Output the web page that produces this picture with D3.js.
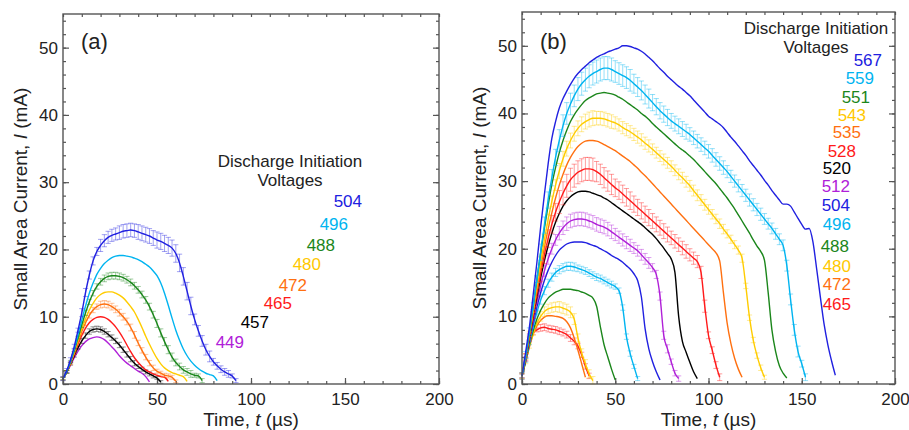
<!DOCTYPE html>
<html>
<head>
<meta charset="utf-8">
<script src="https://cdn.jsdelivr.net/npm/d3@7"></script>
<style>
  body { margin: 0; background: #fff; }
  svg { font-family: "Liberation Sans", Arial, sans-serif; }
</style>
</head>
<body>
<svg id="chart" width="909" height="430"></svg>
<script>
// every trace is sampled every 2 us starting at t = 0
const step = 2;

// panel (a): small area current (mA)
const a449 = [0.8,1.7,2.8,3.9,4.9,5.7,6.3,6.7,6.9,7.0,6.9,6.6,6.1,5.5,4.9,4.2,3.6,3.1,2.7,2.3,1.9,1.6,1.1,0.3];
const a457 = [0.8,1.8,3.0,4.2,5.4,6.4,7.2,7.8,8.1,8.2,8.1,7.8,7.4,6.9,6.4,5.8,5.1,4.4,3.7,3.1,2.6,2.2,1.8,1.5,1.2,0.9,0.3];
const a465 = [0.8,1.8,3.0,4.4,5.9,7.2,8.3,9.1,9.6,9.9,10.0,9.9,9.6,9.1,8.5,7.7,6.8,5.8,4.8,3.9,3.2,2.6,2.1,1.8,1.5,1.3,1.1,1.0,0.4];
const a472 = [0.8,1.8,3.1,4.6,6.2,7.8,9.1,10.2,11.0,11.5,11.8,11.9,11.8,11.5,11.1,10.6,10.0,9.3,8.4,7.3,6.1,5.0,4.0,3.1,2.4,1.9,1.6,1.3,1.2,1.0,0.4];
const a480 = [0.8,1.8,3.2,4.8,6.5,8.2,9.7,11.0,12.0,12.8,13.3,13.6,13.7,13.7,13.5,13.2,12.8,12.2,11.5,10.7,9.6,8.4,7.1,5.9,4.8,3.8,3.0,2.4,2.0,1.7,1.5,1.3,1.1,0.4];
const a488 = [0.8,1.8,3.3,5.0,6.9,8.8,10.6,12.2,13.5,14.5,15.2,15.7,16.0,16.1,16.1,16.0,15.8,15.5,15.1,14.6,14.0,13.3,12.5,11.5,10.3,9.0,7.6,6.3,5.1,4.0,3.2,2.6,2.1,1.8,1.5,1.3,1.2,0.5];
const a496 = [0.8,1.9,3.4,5.2,7.3,9.5,11.6,13.5,15.0,16.3,17.2,17.9,18.4,18.8,19.0,19.1,19.1,19.0,18.9,18.7,18.5,18.2,17.8,17.4,16.8,16.1,15.0,13.5,11.7,9.8,8.0,6.5,5.2,4.2,3.4,2.8,2.3,1.9,1.6,1.4,1.2,0.5];
const a504 = [0.8,2.0,3.6,5.6,8.0,10.6,13.6,16.2,18.3,19.7,20.6,21.3,21.8,22.1,22.3,22.5,22.7,22.8,22.9,22.8,22.6,22.4,22.2,22.0,21.7,21.4,21.2,20.9,20.6,20.2,19.4,18.0,16.0,13.8,11.6,9.6,7.9,6.4,5.1,4.1,3.3,2.7,2.2,1.8,1.5,1.2,0.5];

// panel (a): error bar half heights (mA), one value per 10 us
const a457err = [0.2,0.4,0.4,0.4,0.3,0.2];
const a472err = [0.2,0.4,0.5,0.5,0.4,0.3,0.2];
const a488err = [0.2,0.4,0.5,0.5,0.5,0.6,0.5,0.3];
const a504err = [0.3,0.6,0.9,1.0,1.1,1.2,1.3,0.8,0.5,0.3];

// panel (b): small area current (mA)
const b465 = [1.2,4.2,6.8,7.6,8.0,8.3,8.4,8.2,8.1,8.0,7.8,7.6,7.3,6.8,6.3,5.6,4.3,2.6,1.2];
const b472 = [1.2,3.3,5.5,7.3,8.6,9.4,9.9,10.1,10.1,10.0,9.9,9.7,9.2,8.3,6.8,5.0,3.0,1.0];
const b480 = [1.2,3.3,5.6,7.5,9.0,10.0,10.7,11.1,11.3,11.4,11.4,11.2,11.0,10.6,9.6,6.8,4.6,3.0,1.5,0.5];
const b488 = [1.2,3.4,5.8,7.9,9.6,10.9,11.9,12.7,13.2,13.6,13.8,14.0,14.0,14.0,13.9,13.8,13.6,13.4,13.1,12.7,11.5,8.5,5.8,4.0,2.2,0.6];
const b496 = [1.2,3.5,6.1,8.5,10.6,12.4,13.8,14.9,15.8,16.5,16.9,17.2,17.4,17.4,17.3,17.1,16.9,16.7,16.4,16.1,15.8,15.6,15.3,15.0,14.7,14.4,13.8,11.3,7.0,4.5,2.6,0.8];
const b504 = [1.2,3.6,6.4,9.0,11.4,13.5,15.3,16.8,18.0,19.0,19.8,20.3,20.7,20.9,21.0,21.0,21.0,20.9,20.7,20.5,20.3,20.0,19.7,19.4,19.0,18.7,18.4,18.0,17.5,17.0,16.3,15.3,12.9,8.2,5.2,3.3,1.8,0.6];
const b512 = [1.2,3.7,6.6,9.5,12.2,14.6,16.7,18.5,20.0,21.3,22.3,23.1,23.7,24.1,24.3,24.4,24.4,24.3,24.1,23.9,23.6,23.4,23.2,22.9,22.5,22.1,21.7,21.3,20.9,20.5,20.1,19.7,19.1,18.5,17.9,17.2,16.2,13.0,7.2,5.2,3.3,1.6,0.8];
const b520 = [1.2,3.8,6.8,9.9,12.9,15.7,18.2,20.4,22.3,23.9,25.2,26.3,27.1,27.7,28.1,28.4,28.5,28.5,28.4,28.2,28.0,27.8,27.5,27.2,26.8,26.4,26.0,25.6,25.2,24.8,24.4,24.0,23.6,23.1,22.6,22.1,21.5,20.8,20.1,19.3,18.5,16.5,10.0,6.3,4.7,3.2,1.8,0.8];
const b528 = [1.2,3.9,7.0,10.2,13.4,16.4,19.1,21.5,23.6,25.4,26.9,28.2,29.3,30.2,30.8,31.3,31.6,31.8,31.8,31.7,31.4,31.0,30.5,30.0,29.5,29.0,28.6,28.1,27.6,27.1,26.6,26.1,25.6,25.1,24.6,24.1,23.6,23.1,22.6,22.1,21.6,21.1,20.6,20.1,19.6,19.1,18.6,18.1,16.5,11.5,7.2,5.0,2.8,1.0];
const b535 = [1.2,4.0,7.2,10.6,14.0,17.2,20.2,22.9,25.3,27.5,29.4,31.0,32.4,33.5,34.4,35.1,35.6,35.9,36.0,36.0,35.9,35.7,35.4,35.1,34.8,34.5,34.1,33.7,33.3,32.9,32.4,31.9,31.3,30.8,30.2,29.6,29.0,28.4,27.8,27.2,26.6,26.0,25.4,24.8,24.2,23.6,23.0,22.4,21.8,21.2,20.6,20.0,19.4,18.2,13.5,9.0,6.0,3.8,2.2,1.0];
const b543 = [1.2,4.1,7.4,11.0,14.6,18.0,21.3,24.3,27.0,29.4,31.5,33.3,34.8,36.0,37.0,37.8,38.4,38.8,39.1,39.3,39.3,39.3,39.2,39.0,38.8,38.6,38.3,37.9,37.6,37.3,36.9,36.5,36.1,35.6,35.2,34.7,34.2,33.7,33.2,32.7,32.2,31.6,31.0,30.5,29.9,29.3,28.6,27.9,27.2,26.5,25.8,25.1,24.4,23.7,22.9,22.2,21.4,20.6,19.8,18.6,14.5,9.8,6.5,4.2,2.4,1.0];
const b551 = [1.2,4.2,7.6,11.5,15.5,19.4,23.0,26.4,29.5,32.0,34.2,36.0,37.5,38.8,39.8,40.6,41.3,41.9,42.3,42.6,42.9,43.0,43.1,43.0,42.9,42.7,42.4,42.1,41.7,41.3,40.9,40.5,40.0,39.6,39.1,38.5,38.0,37.5,37.0,36.5,36.0,35.5,35.0,34.6,34.2,33.7,33.2,32.6,32.0,31.4,30.8,30.2,29.6,28.9,28.2,27.5,26.7,25.9,25.0,24.1,23.2,22.3,21.3,20.4,19.6,18.3,13.5,8.0,4.8,2.7,1.6,0.9];
const b559 = [1.2,4.3,7.8,11.5,15.5,19.5,23.5,27.2,30.5,33.5,36.0,38.2,40.0,41.4,42.6,43.6,44.4,45.0,45.5,45.9,46.2,46.5,46.7,46.7,46.5,46.2,45.9,45.6,45.3,44.9,44.4,43.9,43.4,42.8,42.2,41.6,41.0,40.4,39.9,39.4,38.9,38.5,38.1,37.7,37.3,36.9,36.4,35.9,35.4,34.9,34.4,33.8,33.2,32.6,32.0,31.4,30.7,30.0,29.3,28.6,27.9,27.2,26.5,25.8,25.1,24.4,23.7,23.0,22.2,21.4,20.5,17.5,12.5,8.0,4.8,3.0,1.0];
const b567 = [1.2,4.8,8.5,13.2,18.0,23.2,28.0,32.5,36.3,38.8,40.8,42.2,43.3,44.3,45.2,45.9,46.5,47.0,47.5,47.9,48.3,48.6,48.8,49.1,49.3,49.5,49.7,50.0,50.0,49.9,49.7,49.5,49.2,48.8,48.3,47.8,47.2,46.6,46.1,45.5,45.0,44.5,44.0,43.6,43.1,42.6,42.0,41.4,40.8,40.2,39.6,39.2,38.8,38.4,37.9,37.2,36.5,35.9,35.2,34.5,33.8,33.0,32.3,31.6,30.9,30.1,29.4,28.6,27.9,27.2,26.6,26.6,26.3,25.4,24.5,23.6,22.9,23.0,21.0,17.0,12.8,8.8,5.8,3.4,1.3];

// panel (b): error bar half heights (mA), one value per 10 us
const b465err = [0.3,0.5,0.5,0.4];
const b480err = [0.3,0.7,0.8,0.6];
const b496err = [0.3,0.6,0.6,0.5,0.5,0.4,0.3];
const b512err = [0.3,0.8,1.0,1.0,1.0,0.9,0.8,0.6,0.4];
const b528err = [0.5,1.3,1.7,1.7,1.5,1.3,1.2,1.1,1.0,0.9,0.5];
const b543err = [0.4,0.8,1.1,1.1,1.0,0.9,0.9,0.8,0.8,0.8,0.7,0.6,0.4,0.3];
const b559err = [0.5,1.2,1.6,1.7,1.7,1.6,1.4,1.2,1.1,1.0,1.0,0.9,0.9,0.8,0.8,0.5];

const xTicks = [0, 50, 100, 150, 200];
const yTicks = [0, 10, 20, 30, 40, 50];

const colors = {
  blue: '#2020e0', cyan: '#00b4f0', green: '#1b861b', gold: '#ffcc00',
  orange: '#ff7010', red: '#ff1a1a', black: '#000000', purple: '#b020d8'
};

const seriesA = [
  { v: 504, color: colors.blue, values: a504, err: a504err },
  { v: 496, color: colors.cyan, values: a496 },
  { v: 488, color: colors.green, values: a488, err: a488err },
  { v: 480, color: colors.gold, values: a480 },
  { v: 472, color: colors.orange, values: a472, err: a472err },
  { v: 465, color: colors.red, values: a465 },
  { v: 457, color: colors.black, values: a457, err: a457err },
  { v: 449, color: colors.purple, values: a449 }
];

const seriesB = [
  { v: 567, color: colors.blue, values: b567 },
  { v: 559, color: colors.cyan, values: b559, err: b559err },
  { v: 551, color: colors.green, values: b551 },
  { v: 543, color: colors.gold, values: b543, err: b543err },
  { v: 535, color: colors.orange, values: b535 },
  { v: 528, color: colors.red, values: b528, err: b528err },
  { v: 520, color: colors.black, values: b520 },
  { v: 512, color: colors.purple, values: b512, err: b512err },
  { v: 504, color: colors.blue, values: b504 },
  { v: 496, color: colors.cyan, values: b496, err: b496err },
  { v: 488, color: colors.green, values: b488 },
  { v: 480, color: colors.gold, values: b480, err: b480err },
  { v: 472, color: colors.orange, values: b472 },
  { v: 465, color: colors.red, values: b465, err: b465err }
];

// voltage label placement (right end x, baseline y)
const labelPosA = {504:[362,207],496:[348,230],488:[335,251],480:[321,270],472:[307,291],465:[292,309],457:[269,328],449:[244,348]};
const labelPosB = {567:[882,66],559:[874,84],551:[870,103],543:[866,121],535:[861,138],528:[856,157],520:[851,174],512:[850,192],504:[850,211],496:[851,230],488:[849,252],480:[851,272],472:[851,290],465:[851,310]};

const svg = d3.select('#chart');
svg.append('rect').attr('width', 909).attr('height', 430).attr('fill', '#fff');

function drawPanel(box, series, tag, title, labelPos) {
  const g = svg.append('g');
  const x = d3.scaleLinear().domain([0, 200]).range([box.left, box.right]);
  const y = d3.scaleLinear().domain([0, 55]).range([box.bottom, box.top]);

  const tidy = sel => {
    sel.select('.domain').remove();
    sel.selectAll('line').attr('stroke', '#555').attr('stroke-width', 1.2);
    sel.selectAll('text').attr('font-size', 17).attr('fill', '#222')
      .attr('font-family', '"Liberation Sans", Arial, sans-serif');
  };
  const xMinor = d3.range(0, 201, 10);
  const yMinor = d3.range(0, 55, 2);

  g.append('g').attr('transform', `translate(0,${box.bottom})`)
    .call(d3.axisBottom(x).tickValues(xMinor).tickSize(-3).tickFormat('')).call(tidy);
  g.append('g').attr('transform', `translate(0,${box.bottom})`)
    .call(d3.axisBottom(x).tickValues(xTicks).tickSize(-6).tickPadding(9)).call(tidy);
  g.append('g').attr('transform', `translate(0,${box.top})`)
    .call(d3.axisTop(x).tickValues(xMinor).tickSize(-3).tickFormat('')).call(tidy);
  g.append('g').attr('transform', `translate(${box.left},0)`)
    .call(d3.axisLeft(y).tickValues(yMinor).tickSize(-3).tickFormat('')).call(tidy);
  g.append('g').attr('transform', `translate(${box.left},0)`)
    .call(d3.axisLeft(y).tickValues(yTicks).tickSize(-6).tickPadding(5)).call(tidy);
  g.append('g').attr('transform', `translate(${box.right},0)`)
    .call(d3.axisRight(y).tickValues(yMinor).tickSize(-3).tickFormat('')).call(tidy);
  g.append('g').attr('transform', `translate(${box.right},0)`)
    .call(d3.axisRight(y).tickValues(yTicks).tickSize(-6).tickFormat('')).call(tidy);

  const line = d3.line().x(d => x(d.t)).y(d => y(d.v)).curve(d3.curveMonotoneX);

  series.slice().reverse().forEach(s => {
    const pts = s.values.map((v, i) => {
      const t = i * step;
      const e = s.err ? s.err[Math.min(Math.floor(t / 10), s.err.length - 1)] : 0;
      return { t, v, e };
    });
    if (s.err) {
      g.append('g').attr('stroke', s.color).attr('stroke-opacity', 0.42).attr('stroke-width', 1)
        .attr('fill', 'none')
        .selectAll('path').data(pts).join('path')
        .attr('d', d => {
          const cx = x(d.t), hi = y(d.v + d.e), lo = y(Math.max(d.v - d.e, 0));
          return `M${cx - 2.6},${hi}h5.2M${cx},${hi}V${lo}M${cx - 2.6},${lo}h5.2`;
        });
    }
    g.append('path').datum(pts).attr('d', line)
      .attr('fill', 'none').attr('stroke', s.color).attr('stroke-width', 1.4);
  });

  g.append('rect').attr('x', box.left).attr('y', box.top)
    .attr('width', box.right - box.left).attr('height', box.bottom - box.top)
    .attr('fill', 'none').attr('stroke', '#555').attr('stroke-width', 1.4);

  // panel tag
  g.append('text').attr('x', box.left + 18).attr('y', 49)
    .attr('font-size', 22).attr('fill', '#222').text(tag);

  // axis titles
  const xt = g.append('text').attr('x', (box.left + box.right) / 2).attr('y', 426)
    .attr('text-anchor', 'middle').attr('font-size', 19).attr('fill', '#222');
  xt.append('tspan').text('Time, ');
  xt.append('tspan').attr('font-style', 'italic').text('t');
  xt.append('tspan').text(' (\u00b5s)');

  const yt = g.append('text')
    .attr('transform', `translate(${box.left - 36},${(box.top + box.bottom) / 2}) rotate(-90)`)
    .attr('text-anchor', 'middle').attr('font-size', 19).attr('fill', '#222');
  yt.append('tspan').text('Small Area Current, ');
  yt.append('tspan').attr('font-style', 'italic').text('I');
  yt.append('tspan').text(' (mA)');

  // legend
  g.append('text').attr('x', title.x).attr('y', title.y1).attr('text-anchor', 'middle')
    .attr('font-size', 17).attr('fill', '#222').text('Discharge Initiation');
  g.append('text').attr('x', title.x).attr('y', title.y2).attr('text-anchor', 'middle')
    .attr('font-size', 17).attr('fill', '#222').text('Voltages');

  g.append('g').selectAll('text').data(series).join('text')
    .attr('x', d => labelPos[d.v][0]).attr('y', d => labelPos[d.v][1])
    .attr('text-anchor', 'end').attr('font-size', 17)
    .attr('fill', d => d.color === colors.gold ? '#ffc800' : d.color)
    .text(d => d.v);
}

drawPanel({ left: 63, right: 439, top: 14, bottom: 384 }, seriesA, '(a)',
  { x: 290, y1: 167, y2: 186 }, labelPosA);
drawPanel({ left: 522, right: 895, top: 12, bottom: 384 }, seriesB, '(b)',
  { x: 816, y1: 34, y2: 53 }, labelPosB);
</script>
</body>
</html>
